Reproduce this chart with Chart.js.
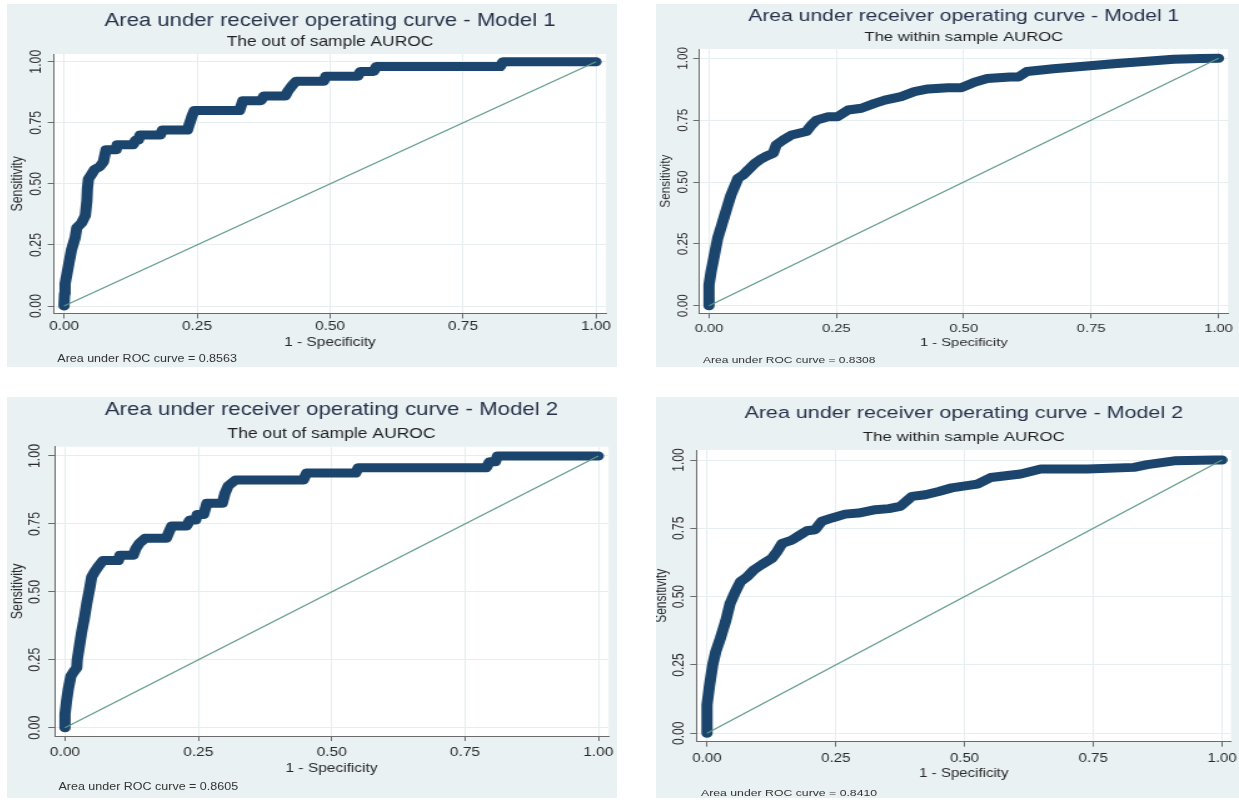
<!DOCTYPE html>
<html><head><meta charset="utf-8">
<script src="https://cdn.jsdelivr.net/npm/chart.js@4.4.1/dist/chart.umd.min.js"></script>
<style>
html,body{margin:0;padding:0;background:#fff;width:1239px;height:800px;overflow:hidden;}
.panel{position:absolute;transform-origin:0 0;background:#e9f1f3;}
.panel canvas{position:absolute;left:0;top:0;}
.foot{position:absolute;white-space:nowrap;font-family:"Liberation Sans",Arial,sans-serif;color:#333;line-height:1;}
</style></head><body>
<script>
// ---------- data ----------
const xTickValues = [0, 0.25, 0.5, 0.75, 1];
const yTickValues = [0, 0.25, 0.5, 0.75, 1];
const chartTitles = [
  "Area under receiver operating curve - Model 1",
  "Area under receiver operating curve - Model 1",
  "Area under receiver operating curve - Model 2",
  "Area under receiver operating curve - Model 2"
];
const chartSubtitles = ["The out of sample AUROC", "The within sample AUROC", "The out of sample AUROC", "The within sample AUROC"];
const aucLabels = ["Area under ROC curve = 0.8563", "Area under ROC curve = 0.8308", "Area under ROC curve = 0.8605", "Area under ROC curve = 0.8410"];
const xAxisTitle = "1 - Specificity";
const yAxisTitle = "Sensitivity";
const refLineX = [0, 1];
const refLineY = [0, 1];

// Model 1, out of sample
const m1OutFpr  = [0,0.001,0.002,0.008,0.014,0.021,0.024,0.033,0.040,0.043,0.044,0.046,0.052,0.058,0.067,0.074,0.077,0.079,0.098,0.100,0.130,0.135,0.140,0.143,0.181,0.185,0.232,0.235,0.238,0.241,0.245,0.330,0.333,0.336,0.370,0.376,0.416,0.421,0.428,0.436,0.488,0.492,0.552,0.557,0.582,0.587,0.820,0.825,1.000];
const m1OutSens = [0,0.05,0.09,0.16,0.23,0.28,0.32,0.34,0.37,0.43,0.48,0.52,0.54,0.56,0.57,0.59,0.62,0.64,0.64,0.66,0.66,0.68,0.68,0.70,0.70,0.72,0.72,0.74,0.76,0.78,0.80,0.80,0.82,0.84,0.84,0.86,0.86,0.88,0.90,0.92,0.92,0.94,0.94,0.96,0.96,0.98,0.98,1.00,1.00];
// Model 1, within sample
const m1InFpr  = [0,0,0.004,0.008,0.012,0.017,0.025,0.030,0.035,0.043,0.050,0.057,0.067,0.077,0.090,0.100,0.110,0.126,0.132,0.146,0.162,0.191,0.201,0.211,0.234,0.252,0.273,0.299,0.325,0.345,0.377,0.403,0.430,0.469,0.495,0.521,0.546,0.591,0.607,0.624,0.676,0.742,0.794,0.860,0.912,0.965,1];
const m1InSens = [0,0.084,0.137,0.178,0.220,0.272,0.326,0.360,0.394,0.447,0.481,0.515,0.528,0.549,0.575,0.590,0.602,0.616,0.650,0.670,0.690,0.704,0.730,0.750,0.764,0.764,0.791,0.798,0.818,0.831,0.845,0.865,0.876,0.881,0.881,0.903,0.918,0.924,0.924,0.947,0.958,0.969,0.978,0.988,0.996,0.999,1];
// Model 2, out of sample
const m2OutFpr  = [0,0,0.003,0.006,0.011,0.016,0.022,0.023,0.027,0.031,0.036,0.041,0.046,0.050,0.056,0.063,0.071,0.100,0.103,0.128,0.133,0.140,0.150,0.190,0.195,0.200,0.228,0.234,0.245,0.248,0.260,0.266,0.295,0.300,0.306,0.320,0.447,0.453,0.545,0.550,0.790,0.796,0.807,0.811,1];
const m2OutSens = [0,0.05,0.10,0.14,0.19,0.205,0.22,0.25,0.30,0.35,0.40,0.46,0.51,0.555,0.575,0.595,0.615,0.615,0.635,0.635,0.66,0.68,0.697,0.697,0.72,0.742,0.742,0.764,0.764,0.785,0.785,0.826,0.826,0.863,0.890,0.912,0.912,0.937,0.937,0.957,0.957,0.979,0.979,1,1];
// Model 2, within sample
const m2InFpr  = [0,0,0.005,0.011,0.017,0.026,0.036,0.045,0.055,0.065,0.078,0.091,0.107,0.126,0.136,0.146,0.165,0.181,0.194,0.210,0.223,0.243,0.268,0.294,0.327,0.353,0.375,0.398,0.424,0.450,0.475,0.508,0.525,0.551,0.609,0.648,0.739,0.829,0.855,0.907,0.985,1];
const m2InSens = [0,0.104,0.177,0.250,0.299,0.348,0.409,0.476,0.518,0.555,0.573,0.598,0.618,0.640,0.665,0.695,0.707,0.726,0.741,0.745,0.776,0.788,0.802,0.806,0.818,0.822,0.830,0.867,0.873,0.885,0.898,0.907,0.912,0.936,0.949,0.967,0.967,0.973,0.983,0.997,1.000,1];

// ---------- layout (page pixels) ----------
const STRETCH = 1.25;
const FONT = "'Liberation Sans', Arial, sans-serif";
const layouts = [
  {bg:[7,4,617,367], plot:[54,54,606,313.5], x0:64, x1:596, y1:61.7, y0:306,
   titleY:21.2, subY:42.3, tickY:327, axY:342.5, footY:359.3, footX:57.3, ytickX:36.5, sensX:18.2,
   fTitle:17.7, fSub:13.9, fTick:12.3, fAx:12.3, fFoot:10},
  {bg:[656,4,1239,367], plot:[699.5,49,1228,313.3], x0:709, x1:1218.5, y1:58.3, y0:305.7,
   titleY:16.2, subY:37.2, tickY:328.3, axY:342.7, footY:360, footX:703, ytickX:683, sensX:665.5,
   fTitle:16.9, fSub:13.3, fTick:11.8, fAx:11.8, fFoot:9.6},
  {bg:[7,397,617,798], plot:[54.5,446.7,608.5,736], x0:65, x1:598.3, y1:456, y0:727.7,
   titleY:410.3, subY:433.7, tickY:752.3, axY:769, footY:787.3, footX:58.5, ytickX:35.6, sensX:17.8,
   fTitle:17.8, fSub:14, fTick:12.4, fAx:12.4, fFoot:10},
  {bg:[656,397,1239,798], plot:[696.5,450,1231,741.7], x0:707, x1:1222, y1:460, y0:733.3,
   titleY:413.7, subY:437.3, tickY:758.3, axY:774, footY:793.3, footX:701, ytickX:679.3, sensX:661.5,
   fTitle:17.2, fSub:13.5, fTick:12, fAx:12, fFoot:9.8}
];
const series = [[m1OutFpr, m1OutSens], [m1InFpr, m1InSens], [m2OutFpr, m2OutSens], [m2InFpr, m2InSens]];

const plotBg = {
  id: 'plotBg',
  beforeDraw(chart) {
    const {ctx, chartArea: a} = chart;
    ctx.save(); ctx.fillStyle = '#ffffff';
    ctx.fillRect(a.left, a.top, a.right - a.left, a.bottom - a.top);
    ctx.restore();
  }
};

const measureCtx = document.createElement('canvas').getContext('2d');
function textWidth(t, size) { measureCtx.font = size + 'px ' + FONT; return measureCtx.measureText(t).width; }

function makePanel(i) {
  const L = layouts[i];
  const [bl, bt, br, bb] = L.bg;
  const W = Math.round((br - bl) / STRETCH);
  const Sx = (br - bl) / W;
  const H = bb - bt;
  const div = document.createElement('div');
  div.className = 'panel';
  Object.assign(div.style, {left: bl + 'px', top: bt + 'px', width: W + 'px', height: H + 'px', transform: 'scaleX(' + Sx + ')'});
  document.body.appendChild(div);
  const cv = document.createElement('canvas');
  cv.width = W; cv.height = H;
  cv.style.width = W + 'px'; cv.style.height = H + 'px';
  div.appendChild(cv);
  const foot = document.createElement('div');
  foot.className = 'foot';
  foot.textContent = aucLabels[i];
  Object.assign(foot.style, {left: ((L.footX - bl) / Sx) + 'px', top: (L.footY - bt - 0.49 * L.fFoot) + 'px', fontSize: L.fFoot + 'px'});
  div.appendChild(foot);

  const [pL, pT, pR, pB] = L.plot;
  const cL = (pL - bl) / Sx, cR = (pR - bl) / Sx, cT = pT - bt, cB = pB - bt;
  const xUnit = L.x1 - L.x0, yUnit = L.y0 - L.y1;
  const xMin = -(L.x0 - pL) / xUnit, xMax = 1 + (pR - L.x1) / xUnit;
  const yMin = -(pB - L.y0) / yUnit, yMax = 1 + (L.y1 - pT) / yUnit;
  const tl = 5;
  const lhT = 1.2 * L.fTitle, lhS = 1.2 * L.fSub;
  const tPadTop = (L.titleY - bt) - lhT / 2;
  const tBottom = tPadTop + lhT;
  const sPadTop = (L.subY - bt) - tBottom - lhS / 2;
  const sPadBottom = cT - (tBottom + sPadTop + lhS);
  const xPad = (L.tickY - bt) - cB - tl - 0.6 * L.fTick;
  const axPadB = H - (L.axY - bt) - 0.6 * L.fAx;
  const widest = textWidth('1.00', L.fTick);
  const yPad = cL - tl - widest / 2 - (L.ytickX - bl) / Sx;
  const sensPad = (L.sensX - bl) / Sx - 0.6 * L.fAx;
  const axisColor = '#6b6b6b', gridColor = '#e6eef0', textColor = '#2a2a2a';
  const [fpr, sens] = series[i];

  new Chart(cv, {
    type: 'scatter',
    data: {
      datasets: [
        {data: refLineX.map((x, k) => ({x, y: refLineY[k]})), showLine: true, borderColor: '#5e9a86', borderWidth: 1.1, pointRadius: 0},
        {data: fpr.map((x, k) => ({x, y: sens[k]})), showLine: true, borderColor: '#1b456c', borderWidth: 9,
         borderJoinStyle: 'round', borderCapStyle: 'round', pointRadius: 0, tension: 0}
      ]
    },
    options: {
      responsive: false, animation: false, devicePixelRatio: 1,
      layout: {autoPadding: false, padding: {left: 0, right: W - cR, top: 0, bottom: 0}},
      plugins: {
        legend: {display: false}, tooltip: {enabled: false},
        title: {display: true, text: chartTitles[i], fullSize: false, color: '#27324a',
                font: {family: FONT, size: L.fTitle, weight: 'normal'}, padding: {top: tPadTop, bottom: 0}},
        subtitle: {display: true, text: chartSubtitles[i], fullSize: false, color: '#1f1f1f',
                font: {family: FONT, size: L.fSub, weight: 'normal'}, padding: {top: sPadTop, bottom: sPadBottom}}
      },
      scales: {
        x: {
          type: 'linear', min: xMin, max: xMax,
          afterBuildTicks(s) { s.ticks = xTickValues.map(v => ({value: v})); },
          afterFit(s) { s.height = H - cB; s.paddingLeft = 0; s.paddingRight = 0; },
          ticks: {callback: v => Number(v).toFixed(2), color: textColor, font: {family: FONT, size: L.fTick},
                  padding: xPad, minRotation: 0, maxRotation: 0, autoSkip: false},
          grid: {color: gridColor, lineWidth: 1, drawTicks: true, tickLength: tl, tickColor: axisColor, tickWidth: 1},
          border: {display: true, color: axisColor, width: 1},
          title: {display: true, text: xAxisTitle, color: textColor, font: {family: FONT, size: L.fAx}, padding: {top: 0, bottom: axPadB}}
        },
        y: {
          type: 'linear', min: yMin, max: yMax,
          afterBuildTicks(s) { s.ticks = yTickValues.map(v => ({value: v})); },
          afterFit(s) { s.width = cL; s.paddingTop = 0; s.paddingBottom = 0; },
          ticks: {callback: v => Number(v).toFixed(2), color: textColor, font: {family: FONT, size: L.fTick},
                  padding: yPad, minRotation: 90, maxRotation: 90, crossAlign: 'center', autoSkip: false},
          grid: {color: gridColor, lineWidth: 1, drawTicks: true, tickLength: tl, tickColor: axisColor, tickWidth: 1},
          border: {display: true, color: axisColor, width: 1},
          title: {display: true, text: yAxisTitle, color: textColor, font: {family: FONT, size: L.fAx}, padding: {top: sensPad, bottom: 0}}
        }
      }
    },
    plugins: [plotBg]
  });
}
for (let i = 0; i < 4; i++) makePanel(i);
</script>
</body></html>
